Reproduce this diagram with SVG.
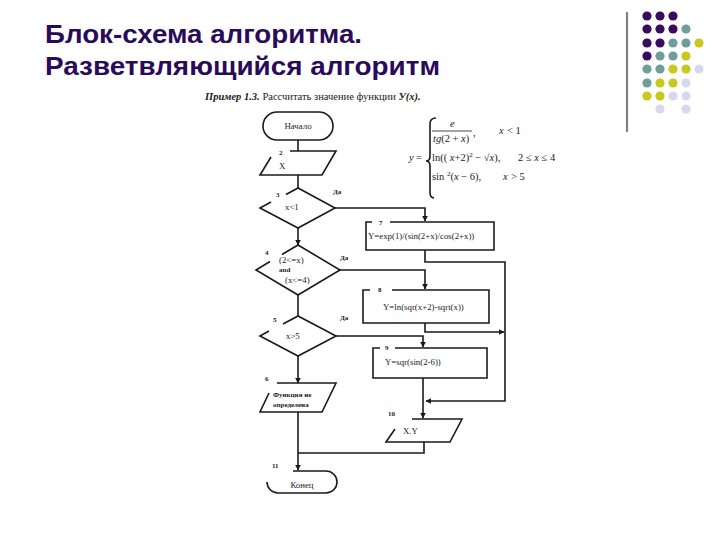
<svg xmlns="http://www.w3.org/2000/svg" width="720" height="540" viewBox="0 0 720 540">
<defs>
<style>
.title{font-family:"Liberation Sans",Arial,sans-serif;font-weight:bold;font-size:25px;fill:#2a0b5a}
.ln{fill:none;stroke:#1a1a1a;stroke-width:1.6}
.t{font-family:"Liberation Serif","Times New Roman",serif;font-size:8.8px;fill:#1a1a1a}
.s{font-family:"Liberation Serif","Times New Roman",serif;font-size:7px;fill:#1a1a1a;font-weight:bold}
.f{font-family:"Liberation Serif","Times New Roman",serif;font-size:10.5px;fill:#1a1a1a}
.p{fill:#3a0a5e}.g{fill:#6f9e9a}.y{fill:#c8c81e}.l{fill:#d8d8ec}
</style>
<marker id="ah" viewBox="0 0 10 10" refX="9" refY="5" markerWidth="6" markerHeight="6" orient="auto" markerUnits="userSpaceOnUse">
<path d="M0,0 L10,5 L0,10 z" fill="#1a1a1a"/>
</marker>
</defs>
<rect width="720" height="540" fill="#ffffff"/>
<!-- title -->
<text class="title" x="45" y="43" textLength="317" lengthAdjust="spacingAndGlyphs">Блок-схема алгоритма.</text>
<text class="title" x="45" y="75" textLength="395" lengthAdjust="spacingAndGlyphs">Разветвляющийся алгоритм</text>
<!-- decoration -->
<g id="decor">
<line x1="627" y1="12" x2="627" y2="132" stroke="#808080" stroke-width="2.2"/>
<circle class="p" cx="647" cy="16" r="4.6"/><circle class="p" cx="660" cy="16" r="4.6"/><circle class="p" cx="673" cy="16" r="4.6"/>
<circle class="p" cx="647" cy="29" r="4.6"/><circle class="p" cx="660" cy="29" r="4.6"/><circle class="p" cx="673" cy="29" r="4.6"/><circle class="g" cx="686" cy="29" r="4.6"/>
<circle class="p" cx="647" cy="43" r="4.6"/><circle class="p" cx="660" cy="43" r="4.6"/><circle class="g" cx="673" cy="43" r="4.6"/><circle class="g" cx="686" cy="43" r="4.6"/><circle class="y" cx="699" cy="43" r="4.6"/>
<circle class="p" cx="647" cy="56" r="4.6"/><circle class="g" cx="660" cy="56" r="4.6"/><circle class="g" cx="673" cy="56" r="4.6"/><circle class="y" cx="686" cy="56" r="4.6"/>
<circle class="g" cx="647" cy="69" r="4.6"/><circle class="g" cx="660" cy="69" r="4.6"/><circle class="y" cx="673" cy="69" r="4.6"/><circle class="y" cx="686" cy="69" r="4.6"/><circle class="l" cx="699" cy="69" r="4.6"/>
<circle class="g" cx="647" cy="83" r="4.6"/><circle class="y" cx="660" cy="83" r="4.6"/><circle class="y" cx="673" cy="83" r="4.6"/><circle class="l" cx="686" cy="83" r="4.6"/>
<circle class="y" cx="647" cy="96" r="4.6"/><circle class="y" cx="660" cy="96" r="4.6"/><circle class="l" cx="673" cy="96" r="4.6"/><circle class="l" cx="686" cy="96" r="4.6"/>
<circle class="l" cx="660" cy="109" r="4.6"/><circle class="l" cx="686" cy="109" r="4.6"/>
</g>
<!-- subtitle -->
<text x="205" y="100" font-family="'Liberation Serif','Times New Roman',serif" font-size="10.5" fill="#1a1a1a"><tspan font-weight="bold" font-style="italic">Пример 1.3.</tspan> Рассчитать значение функции <tspan font-weight="bold" font-style="italic">У(x).</tspan></text>
<!-- formula -->
<g id="formula">
<text class="f" x="409" y="161" font-style="italic">y</text>
<text class="f" x="416" y="161">=</text>
<path class="ln" stroke-width="1" d="M436,118 Q430,118 430,124 L430,156 Q430,161 426,161 Q430,161 430,166 L430,192 Q430,198 434,198"/>
<text class="f" x="450" y="127" font-style="italic">e</text>
<line x1="432" y1="131" x2="472" y2="131" stroke="#1a1a1a" stroke-width="0.8"/>
<text class="f" x="433" y="142"><tspan font-style="italic">tg</tspan>(2 + <tspan font-style="italic">x</tspan>)</text>
<text class="f" x="473" y="136">,</text>
<text class="f" x="499" y="134" font-style="italic">x</text><text class="f" x="507" y="134">&lt; 1</text>
<text class="f" x="432" y="161">ln(( <tspan font-style="italic">x</tspan>+2)<tspan font-size="7" dy="-4">2</tspan><tspan dy="4"> − √<tspan font-style="italic">x</tspan>),</tspan></text>
<text class="f" x="518" y="161">2 ≤ <tspan font-style="italic">x</tspan> ≤ 4</text>
<text class="f" x="432" y="180">sin <tspan font-size="7" dy="-4">2</tspan><tspan dy="4">(<tspan font-style="italic">x</tspan> − 6),</tspan></text>
<text class="f" x="503" y="180" font-style="italic">x</text><text class="f" x="511" y="180">&gt; 5</text>
</g>
<!-- nodes -->
<g id="n1">
<rect class="ln" x="263" y="112" width="70" height="28" rx="14"/>
<text class="t" x="298" y="129" text-anchor="middle">Начало</text>
</g>
<g id="n2">
<path class="ln" d="M290,151 H336 L322,175 H260 L271,157"/>
<text class="s" x="279" y="155">2</text>
<text class="t" x="279" y="169">X</text>
</g>
<g id="n3">
<path class="ln" d="M286,194.5 L298,188 L335,208 L298,228 L260,208 L271,202"/>
<text class="s" x="276" y="197">3</text>
<text class="t" x="285" y="210">x&lt;1</text>
</g>
<g id="n4">
<path class="ln" d="M282,254.5 L298,245 L340,270 L298,295 L256,270 L270,261.5"/>
<text class="s" x="265" y="255">4</text>
<text class="t" x="279" y="263">(2&lt;=x)</text>
<text class="s" x="279" y="272" font-weight="normal">and</text>
<text class="t" x="285" y="283">(x&lt;=4)</text>
</g>
<g id="n5">
<path class="ln" d="M283,324 L298,316 L336,336 L298,356 L260,336 L269,331"/>
<text class="s" x="273" y="322">5</text>
<text class="t" x="286" y="339">x&gt;5</text>
</g>
<g id="n6">
<path class="ln" d="M277,383 H336 L322,412 H260 L269,393"/>
<text class="s" x="265" y="381">6</text>
<text class="s" x="273" y="397">Функция не</text>
<text class="s" x="273" y="407">определена</text>
</g>
<g id="n7">
<path class="ln" d="M372,222 H366 V250 H494 V222 H390"/>
<text class="s" x="379" y="225">7</text>
<text class="t" x="368" y="239">Y=exp(1)/(sin(2+x)/cos(2+x))</text>
</g>
<g id="n8">
<path class="ln" d="M370,290 H363 V323 H489 V290 H392"/>
<text class="s" x="378" y="292">8</text>
<text class="t" x="383" y="310">Y=ln(sqr(x+2)-sqrt(x))</text>
</g>
<g id="n9">
<path class="ln" d="M380,348 H373 V378 H487 V348 H395"/>
<text class="s" x="385" y="350">9</text>
<text class="t" x="385" y="365">Y=sqr(sin(2-6))</text>
</g>
<g id="n10">
<path class="ln" d="M412,419 H462 L450,442 H386 L395,429"/>
<text class="s" x="388" y="416">10</text>
<text class="t" x="403" y="434">X.Y</text>
</g>
<g id="n11">
<path class="ln" d="M293,471 H326 A11,11 0 0 1 326,493 H278 A11,11 0 0 1 267,482"/>
<text class="s" x="272" y="468">11</text>
<text class="t" x="302" y="488" text-anchor="middle">Конец</text>
</g>
<!-- connectors -->
<g id="connectors" class="ln">
<line x1="298" y1="140" x2="298" y2="151"/>
<line x1="298" y1="175" x2="298" y2="188"/>
<line x1="298" y1="228" x2="298" y2="245" marker-end="url(#ah)"/>
<line x1="298" y1="295" x2="298" y2="316"/>
<line x1="298" y1="356" x2="298" y2="383" marker-end="url(#ah)"/>
<line x1="298" y1="412" x2="298" y2="470" marker-end="url(#ah)"/>
<polyline points="335,208 425,208 425,221" marker-end="url(#ah)"/>
<polyline points="340,270 425,270 425,289" marker-end="url(#ah)"/>
<polyline points="336,336 423,336 423,347" marker-end="url(#ah)"/>
<polyline points="425,250 425,262 505,262 505,401 426,401" marker-end="url(#ah)"/>
<polyline points="425,323 425,332 504,332" marker-end="url(#ah)"/>
<line x1="423" y1="378" x2="423" y2="418" marker-end="url(#ah)"/>
<polyline points="424,442 424,453 298,453"/>
</g>
<g id="yes-labels">
<text class="s" x="333" y="194">Да</text>
<text class="s" x="340" y="260">Да</text>
<text class="s" x="340" y="320">Да</text>
</g>
</svg>
